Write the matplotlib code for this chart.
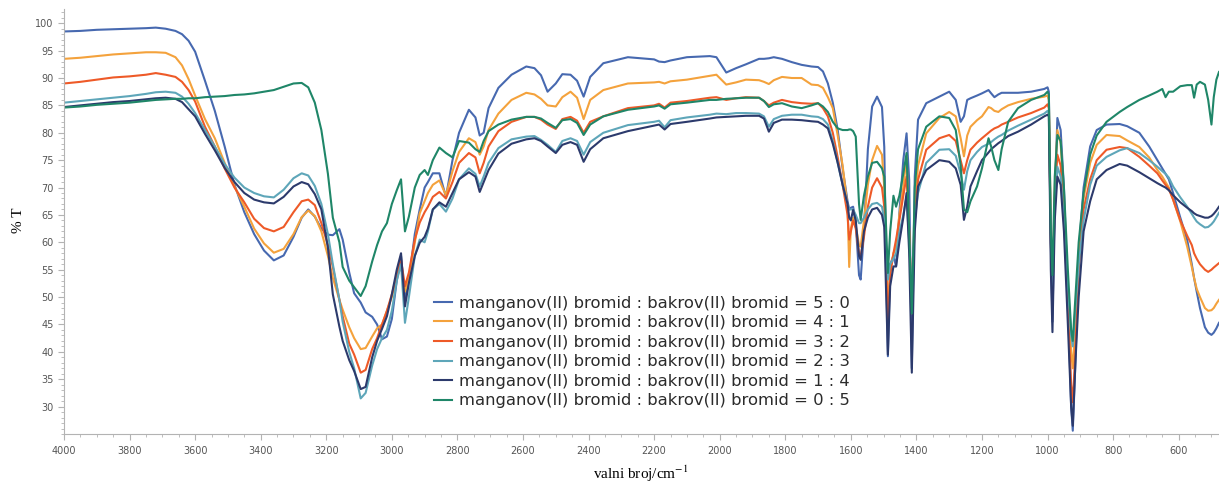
import matplotlib
matplotlib.use("Agg")
import matplotlib.pyplot as plt
from matplotlib.ticker import MultipleLocator

# IR spectra (%T vs wavenumber) of MnBr2 : CuBr2 mixtures
wavenumber = [
    4000, 3950, 3900, 3850, 3800, 3750, 3720, 3690, 3660, 3640,
    3620, 3600, 3570, 3540, 3510, 3480, 3450, 3420, 3390, 3360,
    3330, 3300, 3275, 3255, 3235, 3215, 3195, 3180, 3160, 3150,
    3130, 3115, 3095, 3080, 3060, 3045, 3030, 3015, 3000, 2985,
    2972, 2960, 2948, 2930, 2915, 2900, 2890, 2875, 2855, 2835,
    2815, 2795, 2765, 2745, 2732, 2720, 2705, 2675, 2635, 2590,
    2565, 2545, 2525, 2500, 2480, 2455, 2435, 2415, 2395, 2355,
    2280, 2200, 2185, 2168, 2150, 2100, 2030, 2010, 1980, 1950,
    1920, 1880, 1865, 1850, 1835, 1810, 1780, 1750, 1720, 1700,
    1685, 1670, 1655, 1640, 1625, 1610, 1605, 1600, 1593, 1585,
    1575, 1570, 1560, 1548, 1535, 1520, 1505, 1498, 1492, 1487,
    1480, 1470, 1462, 1452, 1440, 1430, 1422, 1414, 1405, 1395,
    1370, 1330, 1300, 1280, 1265, 1255, 1245, 1235, 1215, 1200,
    1180, 1172, 1162, 1150, 1140, 1120, 1090, 1050, 1010, 1000,
    996, 990, 985, 978, 970, 960, 950, 938, 928, 923,
    915, 905, 890, 870, 850, 820, 780, 757, 720, 690,
    665, 650, 640, 630, 617, 595, 574, 560, 553, 545,
    535, 520, 510, 500, 493, 485, 477,
]

t_5_0 = [
    98.5, 98.6, 98.8, 98.9, 99.0, 99.1, 99.2, 99.0, 98.6, 98.0,
    96.8, 94.8, 89.5, 84.0, 77.5, 70.5, 65.5, 61.5, 58.5, 56.7,
    57.6, 61.0, 64.5, 66.0, 64.7, 62.5, 61.4, 61.3, 62.4, 60.5,
    54.5, 50.7, 49.0, 47.2, 46.4, 45.0, 42.3, 42.8, 46.0, 53.0,
    57.5, 49.5, 53.0, 61.5, 66.0, 70.0, 71.0, 72.6, 72.6, 68.3,
    75.0, 80.0, 84.2, 82.8, 79.5, 80.0, 84.5, 88.2, 90.6, 92.1,
    91.8, 90.5, 87.5, 89.0, 90.7, 90.6, 89.5, 86.6, 90.2, 92.7,
    93.8, 93.4, 93.0, 92.9, 93.2, 93.8, 94.0, 93.8, 91.0, 91.8,
    92.5, 93.5, 93.5, 93.6, 93.8, 93.5, 92.9, 92.4, 92.1, 92.0,
    91.2, 89.0, 85.5, 80.5, 73.5, 67.5, 66.0, 66.3, 66.5, 63.5,
    54.0, 53.2, 62.0, 77.0, 84.8, 86.6, 84.7, 77.4, 55.0, 39.2,
    56.0, 57.5, 55.6, 65.3, 75.0, 79.9, 71.4, 37.0, 72.0, 82.4,
    85.4, 86.6, 87.5, 86.0, 82.0, 83.0, 86.0, 86.3, 86.8, 87.2,
    87.8, 87.2, 86.5, 87.0, 87.3, 87.3, 87.3, 87.5, 88.0, 88.3,
    87.5, 60.0, 45.5, 68.0, 82.7, 80.5, 70.0, 50.0, 30.0, 25.6,
    38.0, 58.0, 70.0, 77.5, 80.5, 81.5, 81.6, 81.2, 80.0, 77.5,
    75.0, 73.5, 72.5, 71.5, 69.0, 64.5, 60.4, 56.0, 53.5, 51.0,
    48.0, 44.5, 43.5, 43.1, 43.5, 44.3, 45.3,
]

t_4_1 = [
    93.5, 93.7, 94.0, 94.3, 94.5, 94.7, 94.7, 94.6, 93.8, 92.3,
    89.8, 86.8, 82.5, 79.0, 74.5, 70.2, 66.5, 62.5, 59.8, 58.1,
    58.8, 61.5, 64.6, 65.8, 64.8, 62.0, 57.5, 53.5, 49.5, 47.7,
    44.5, 42.5, 40.5, 40.7, 42.8, 44.3, 45.0, 47.5, 50.0, 53.5,
    55.8, 51.0, 53.5, 60.0, 65.3, 67.5, 69.0, 70.5, 71.3, 68.6,
    73.0, 76.5, 79.0, 78.3, 76.0, 77.5, 80.5, 83.5, 86.0, 87.3,
    87.0, 86.2, 85.0, 84.8, 86.5, 87.5, 86.4, 82.5, 86.0, 87.8,
    89.0, 89.2, 89.3, 89.0, 89.4, 89.7, 90.4, 90.6, 88.8, 89.2,
    89.7, 89.6, 89.3, 88.9, 89.6, 90.2, 90.0, 90.0, 88.8, 88.7,
    88.2, 86.5, 84.5, 79.5, 74.0, 66.5, 55.5, 62.5, 64.5, 63.0,
    59.5, 59.2, 64.0, 70.5, 75.0, 77.6, 76.0, 70.0, 58.0, 47.0,
    55.0, 58.0, 59.2, 65.0, 70.0, 75.7, 62.0, 47.0, 66.0, 74.0,
    79.9, 82.7, 83.8, 83.0, 79.0, 75.7, 79.5, 81.1, 82.3, 83.0,
    84.7, 84.5, 84.0, 83.8, 84.3, 85.0, 85.6, 86.2, 86.6, 86.8,
    86.0, 62.0, 50.0, 70.0, 80.5, 78.0, 68.0, 52.0, 40.0, 37.0,
    45.0, 58.0, 68.0, 74.5, 77.8, 79.6, 79.4, 78.6, 77.4, 75.5,
    73.2, 72.0, 71.0, 70.0, 67.8, 63.8, 59.2, 55.5, 53.5, 51.5,
    50.0, 48.0, 47.5, 47.6, 48.0, 48.8, 49.5,
]

t_3_2 = [
    89.0, 89.3, 89.7, 90.1, 90.3, 90.6, 90.9, 90.6, 90.2, 89.3,
    87.8, 85.7, 81.1, 77.5, 73.5, 70.0, 67.3, 64.3, 62.6, 62.0,
    62.8, 65.5, 67.5, 67.8, 66.8, 63.5, 59.5, 55.5, 49.5, 46.5,
    41.5, 39.5, 36.2, 36.7, 40.5, 42.5, 45.0, 47.5, 50.5, 54.0,
    56.8, 52.0, 54.5, 60.5, 63.6, 65.5, 66.5, 68.3, 69.2, 68.0,
    71.0, 74.5, 76.3, 75.5, 72.6, 74.5, 77.5, 80.3, 82.0, 82.9,
    82.9, 82.4, 81.5, 80.7, 82.5, 82.9, 82.2, 80.0, 82.0, 83.0,
    84.5, 85.0, 85.3, 84.6, 85.5, 85.8, 86.4, 86.5, 86.0, 86.3,
    86.5, 86.4, 85.8, 85.0, 85.5, 86.0, 85.6, 85.4, 85.3, 85.4,
    84.5, 83.0, 80.0, 75.5, 70.5, 65.0, 60.5, 62.0, 64.0, 62.5,
    58.0, 57.5, 61.0, 66.5, 70.0, 71.7, 70.0, 66.5, 55.6, 44.6,
    54.0, 58.0, 60.5, 64.0, 68.5, 72.0, 62.0, 47.5, 64.0, 71.4,
    76.9, 79.0, 79.6, 78.5, 75.0, 72.6, 75.0, 76.9, 78.2, 79.0,
    80.0, 80.4, 80.8, 81.1, 81.5, 82.0, 82.8, 83.6, 84.6, 85.2,
    84.5, 60.0, 50.0, 68.0, 76.0, 74.0, 65.0, 48.0, 34.0, 30.8,
    40.0, 55.0, 66.0, 71.5, 75.0, 76.9, 77.4, 77.2, 75.6, 74.0,
    72.6, 71.3, 70.5, 69.7, 67.8, 64.0, 61.2, 59.5, 58.0, 57.0,
    56.0, 55.0, 54.6, 55.0, 55.4, 55.8, 56.2,
]

t_2_3 = [
    85.5, 85.8, 86.1, 86.4, 86.7, 87.1, 87.4, 87.5, 87.3, 86.6,
    85.3, 83.6, 80.5, 77.5, 74.3, 71.8, 70.0, 69.0, 68.4, 68.2,
    69.6, 71.7, 72.6, 72.2, 70.3, 67.0, 61.5, 56.0, 49.5, 45.5,
    40.0, 37.0, 31.5, 32.5, 37.5, 40.5, 42.5, 44.0, 47.5, 53.0,
    56.0, 45.3, 50.0, 57.5, 60.5, 60.0, 62.0, 66.0, 67.0, 65.6,
    68.0, 71.5, 73.5, 72.5, 70.2, 72.0, 74.5, 77.2, 78.8, 79.3,
    79.4, 78.7, 77.8, 76.5, 78.5, 79.0, 78.5, 76.0, 78.3, 80.0,
    81.4, 82.0, 82.2, 81.0, 82.3, 82.8, 83.3, 83.5, 83.4, 83.6,
    83.6, 83.5, 83.0, 81.1, 82.5, 83.1, 83.3, 83.3, 83.0, 82.9,
    82.5, 81.5, 78.5, 74.5, 70.5, 67.0, 66.0, 66.0, 66.0, 65.0,
    63.5, 63.5, 64.5, 66.0, 67.0, 67.2, 66.5, 64.1, 58.0, 53.2,
    56.0, 57.0, 58.0, 61.7, 65.0, 68.3, 60.0, 50.0, 64.0, 69.0,
    74.5, 76.9, 77.0, 75.8, 72.5, 69.6, 73.0, 75.0, 76.5, 77.4,
    78.0, 78.3, 78.8, 79.3, 79.6, 80.4, 81.3, 82.4, 83.5, 84.0,
    83.5, 60.0, 52.0, 66.0, 73.8, 72.0, 64.0, 52.0, 43.0, 41.0,
    48.0, 56.0, 64.0, 70.5, 74.0, 75.6, 76.8, 77.2, 76.3, 75.0,
    73.8, 73.0, 72.5, 71.8, 70.2, 68.2, 66.5, 65.2, 64.5, 63.8,
    63.3, 62.7, 62.8, 63.3, 63.8, 64.6, 65.4,
]

t_1_4 = [
    84.7, 85.0, 85.3, 85.6, 85.8, 86.1, 86.3, 86.4, 86.2, 85.6,
    84.3, 83.0, 79.8, 76.8, 73.6, 71.0, 69.0, 67.8, 67.3, 67.1,
    68.3, 70.2, 71.0, 70.6, 68.8, 66.0, 59.0, 50.5, 44.6, 42.0,
    38.5, 36.5, 33.2, 33.6, 39.0, 42.0, 44.2, 46.5, 50.5, 55.0,
    58.0, 48.3, 52.6, 57.5, 59.9, 61.0, 62.5, 66.0, 67.3, 66.5,
    69.0, 71.5, 72.8, 72.0, 69.2, 71.0, 73.2, 76.2, 78.0, 78.8,
    79.0, 78.5, 77.5, 76.3, 77.8, 78.3, 77.8, 74.7, 77.0, 79.0,
    80.3, 81.3, 81.5, 80.6, 81.6, 82.0, 82.6, 82.8, 82.9, 83.0,
    83.1, 83.1, 82.6, 80.2, 81.8, 82.4, 82.4, 82.3, 82.1, 82.0,
    81.5, 80.8, 78.0, 74.5, 70.5, 67.0, 64.5, 64.0, 65.9, 64.0,
    57.5, 56.8, 62.0, 64.5, 66.0, 66.3, 65.0, 62.8, 50.0, 39.5,
    52.0, 55.6, 55.6, 60.0, 64.5, 69.0, 58.0, 36.2, 62.0, 70.2,
    73.2, 75.0, 74.7, 73.5, 70.5, 64.1, 66.5, 70.2, 73.0, 75.0,
    76.4, 77.0, 77.5, 78.1, 78.5, 79.4, 80.2, 81.5, 83.0, 83.3,
    83.0, 55.0, 43.6, 64.0, 72.0, 70.5, 62.0, 45.0, 30.0, 26.5,
    38.0, 50.0, 62.0, 67.5, 71.5, 73.2, 74.3, 74.0, 72.8, 71.7,
    70.8, 70.3, 70.0, 69.5, 68.6, 67.3, 66.3, 65.7, 65.3, 65.0,
    64.8, 64.5, 64.5, 64.8, 65.2, 65.8, 66.5,
]

t_0_5 = [
    84.6, 84.8, 85.1, 85.3, 85.5, 85.8, 86.0, 86.1, 86.2, 86.2,
    86.3, 86.3, 86.5, 86.6, 86.7, 86.9, 87.0, 87.2, 87.5, 87.8,
    88.4, 89.0, 89.1, 88.3, 85.5, 80.5, 72.5, 64.5, 60.0, 55.5,
    53.0, 51.8, 50.2, 52.0, 56.5, 59.5, 62.0, 63.5, 67.0, 69.5,
    71.5, 62.0, 64.7, 70.0, 72.3, 73.2, 72.3, 75.0, 77.3, 76.3,
    75.5, 78.5, 78.2, 77.0, 76.5, 78.5, 80.3, 81.5, 82.4, 82.9,
    82.9, 82.6, 81.8, 80.9, 82.3, 82.5, 81.8, 79.6, 81.5, 83.0,
    84.2, 84.8, 85.0, 84.4, 85.2, 85.5, 86.0, 86.0, 86.2, 86.3,
    86.4, 86.4, 85.8, 84.7, 85.2, 85.4, 84.8, 84.5, 85.0, 85.4,
    84.8, 83.8, 82.0, 80.8, 80.5, 80.5, 80.6, 80.6, 80.3, 79.3,
    67.0, 64.1, 68.5, 72.0, 74.5, 74.7, 73.5, 72.0, 62.0, 54.4,
    62.0, 68.5, 66.5, 68.5, 72.5, 76.3, 62.0, 47.0, 70.0, 77.0,
    81.1, 83.0, 82.7, 80.5, 74.0, 66.0, 65.5, 67.5, 70.2, 73.5,
    79.0, 77.5, 75.0, 73.2, 77.0, 82.0, 84.5, 86.0, 86.9, 87.5,
    87.0, 62.0, 54.0, 72.0, 79.6, 78.5, 70.0, 55.0, 44.0, 42.0,
    50.0, 60.0, 69.0, 76.0, 79.5, 82.0, 83.8, 84.7, 86.0, 86.8,
    87.5, 88.0, 86.5, 87.5, 87.5, 88.5, 88.7, 88.7, 86.4, 88.8,
    89.3, 88.8, 86.0, 81.5, 86.5, 89.7, 91.1,
]

ratios = ["5 : 0", "4 : 1", "3 : 2", "2 : 3", "1 : 4", "0 : 5"]
colors = ["#4769b0", "#f4a23c", "#ee5a28", "#5ea6b9", "#2c3a6c", "#1f8668"]
y_ticks = list(range(30, 101, 5))
x_ticks = list(range(600, 4001, 200))

plt.rcParams["mathtext.fontset"] = "stix"

W, H = 1219, 484
fig = plt.figure(figsize=(W / 100, H / 100), dpi=100)
ax = fig.add_axes([64 / W, 1 - 434 / H, 1 - 64 / W, (434 - 9) / H])

for t, ratio, c in zip([t_5_0, t_4_1, t_3_2, t_2_3, t_1_4, t_0_5], ratios, colors):
    ax.plot(wavenumber, t, color=c, lw=1.5, solid_joinstyle="round",
            label=f"manganov(II) bromid : bakrov(II) bromid = {ratio}")

ax.set_xlim(4000, 477)
ax.set_ylim(25, 102.6)
ax.set_xticks(x_ticks)
ax.set_yticks(y_ticks)
ax.xaxis.set_minor_locator(MultipleLocator(50))
ax.yaxis.set_minor_locator(MultipleLocator(1))

for side in ["top", "right"]:
    ax.spines[side].set_visible(False)
for side in ["left", "bottom"]:
    ax.spines[side].set_color("#b3b3b3")
ax.tick_params(which="both", color="#b3b3b3", labelcolor="#555555", labelsize=7)
ax.tick_params(which="major", length=4)
ax.tick_params(which="minor", length=2)
ax.tick_params(axis="x", pad=5)

ax.legend(loc="center", bbox_to_anchor=(0.5004, 0.193), frameon=False,
          fontsize=11.8, handlelength=1.1, handletextpad=0.43, labelspacing=0.28,
          labelcolor="#2b2b2b")

fig.text(641 / W, 1 - 474 / H, "valni broj/cm$^{-1}$", ha="center", va="center",
         family="Liberation Serif", fontsize=11)
fig.text(18 / W, 1 - 220 / H, "% T", ha="center", va="center", rotation=90,
         family="Liberation Serif", fontsize=11)

fig.savefig("out.png", dpi=100)
